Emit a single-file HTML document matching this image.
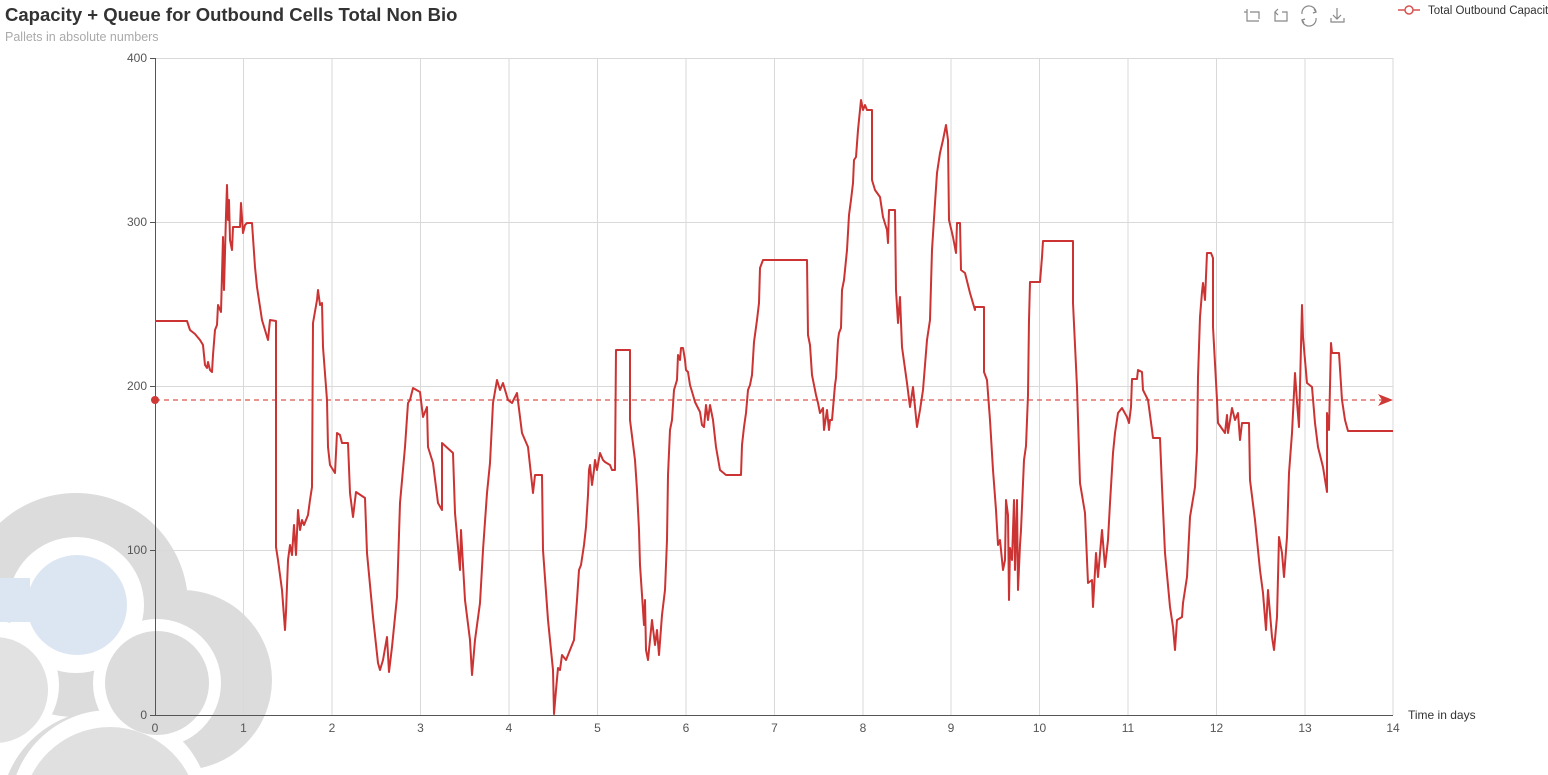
<!DOCTYPE html>
<html><head><meta charset="utf-8"><style>
html,body{margin:0;padding:0;background:#fff;width:1548px;height:775px;overflow:hidden;}
body{position:relative;font-family:"Liberation Sans",sans-serif;}
</style></head><body>
<svg width="1548" height="775" viewBox="0 0 1548 775" xmlns="http://www.w3.org/2000/svg" style="position:absolute;left:0;top:0;display:block">
<defs><clipPath id="c"><rect x="0" y="0" width="1548" height="775"/></clipPath></defs>
<g clip-path="url(#c)">
<circle cx="76" cy="605" r="112" fill="#dcdcdc"/>
<circle cx="182" cy="680" r="90" fill="#dcdcdc"/>
<circle cx="105" cy="815" r="105" fill="#dcdcdc"/>
<circle cx="76" cy="605" r="68" fill="#fff"/>
<circle cx="157" cy="683" r="64" fill="#fff"/>
<circle cx="-5" cy="685" r="64" fill="#fff"/>
<circle cx="110" cy="810" r="100" fill="#fff"/>
<circle cx="110" cy="815" r="88" fill="#e0e0e0"/>
<circle cx="-5" cy="690" r="53" fill="#e2e2e2"/>
<circle cx="157" cy="683" r="52" fill="#dcdcdc"/>
<circle cx="77" cy="605" r="50" fill="#dce6f2"/>
<rect x="0" y="578" width="30" height="44" fill="#dce6f2"/>
</g>
<g stroke="#d9d9d9" stroke-width="1">
<line x1="155" y1="58.5" x2="1393" y2="58.5"/>
<line x1="155" y1="222.5" x2="1393" y2="222.5"/>
<line x1="155" y1="386.5" x2="1393" y2="386.5"/>
<line x1="155" y1="550.5" x2="1393" y2="550.5"/>
<line x1="243.5" y1="58" x2="243.5" y2="715"/>
<line x1="332" y1="58" x2="332" y2="715"/>
<line x1="420.5" y1="58" x2="420.5" y2="715"/>
<line x1="509" y1="58" x2="509" y2="715"/>
<line x1="597.5" y1="58" x2="597.5" y2="715"/>
<line x1="686" y1="58" x2="686" y2="715"/>
<line x1="774.5" y1="58" x2="774.5" y2="715"/>
<line x1="863" y1="58" x2="863" y2="715"/>
<line x1="951" y1="58" x2="951" y2="715"/>
<line x1="1039.5" y1="58" x2="1039.5" y2="715"/>
<line x1="1128" y1="58" x2="1128" y2="715"/>
<line x1="1216.5" y1="58" x2="1216.5" y2="715"/>
<line x1="1305" y1="58" x2="1305" y2="715"/>
<line x1="1393" y1="58" x2="1393" y2="715"/>
</g>
<g stroke="#555" stroke-width="1">
<line x1="155.5" y1="58" x2="155.5" y2="716"/>
<line x1="155" y1="715.5" x2="1393" y2="715.5"/>
<line x1="150" y1="58.5" x2="155" y2="58.5"/>
<line x1="150" y1="222.5" x2="155" y2="222.5"/>
<line x1="150" y1="386.5" x2="155" y2="386.5"/>
<line x1="150" y1="550.5" x2="155" y2="550.5"/>
<line x1="150" y1="715.5" x2="155" y2="715.5"/>
</g>
<g font-size="12" fill="#555" text-anchor="end">
<text x="147" y="62">400</text><text x="147" y="226">300</text><text x="147" y="390">200</text><text x="147" y="554">100</text><text x="147" y="719">0</text>
</g>
<g font-size="12" fill="#555" text-anchor="middle">
<text x="155" y="732">0</text><text x="243.5" y="732">1</text><text x="332" y="732">2</text><text x="420.5" y="732">3</text><text x="509" y="732">4</text><text x="597.5" y="732">5</text><text x="686" y="732">6</text><text x="774.5" y="732">7</text><text x="863" y="732">8</text><text x="951" y="732">9</text><text x="1039.5" y="732">10</text><text x="1128" y="732">11</text><text x="1216.5" y="732">12</text><text x="1305" y="732">13</text><text x="1393" y="732">14</text>
</g>
<text x="1408" y="719" font-size="12" fill="#333">Time in days</text>
<line x1="155" y1="400" x2="1385" y2="400" stroke="#d9534f" stroke-width="1.3" stroke-dasharray="5,4"/>
<circle cx="155" cy="400" r="4" fill="#d03a36"/>
<path d="M1378 394 L1393 400 L1378 406 L1382 400 Z" fill="#d03a36"/>
<polyline fill="none" stroke="#cc3333" stroke-width="2" stroke-linejoin="round" points="
155,321 187,321 190,330 195,334 200,340 203,345 205,365 207,368 208,362 210,370 212,372 213,355 215,330 217,325 218,305 221,312 223,237 224,290 226,215 227,185 228,220 229,200 230,240 232,250 233,227 240,227 241,203 243,233 245,225 247,223 252,223 255,267 257,287 262,320 268,340 270,320 276,321 276,547 278,560 282,590 285,630 286,612 288,560 290,545 292,555 294,525 296,555 298,510 300,530 302,520 304,525 308,515 310,500 312,487 313,323 317,300 318,290 320,305 322,303 323,347 327,400 328,447 330,465 335,473 337,433 340,435 342,443 348,443 350,493 353,517 356,492 365,498 367,553 373,617 378,663 380,670 383,660 387,637 389,672 392,647 397,597 400,503 405,447 408,403 410,400 413,388 420,392 423,417 427,407 428,447 433,463 438,503 442,510 442,443 453,453 455,513 460,570 461,530 465,600 470,640 472,675 475,640 480,603 483,550 487,493 490,463 493,403 497,380 500,390 503,383 508,400 512,403 517,393 522,433 528,447 533,493 535,475 542,475 543,550 548,620 553,670 554,714 556,690 558,668 560,670 562,655 566,660 570,650 574,640 577,600 579,570 581,565 584,545 586,527 588,495 589,470 590,465 592,485 594,470 595,460 597,470 600,453 603,460 605,462 610,465 612,470 615,470 616,350 630,350 630,420 635,460 637,490 639,530 640,565 641,580 643,610 644,625 645,600 646,650 648,660 650,640 652,620 655,645 657,630 659,655 662,615 665,590 667,540 668,475 670,430 672,420 674,390 677,380 678,355 680,360 681,348 683,348 685,360 686,370 688,372 690,385 693,395 695,402 700,412 702,425 704,427 706,405 708,420 710,405 713,420 716,447 720,470 726,475 735,475 741,475 742,445 744,427 746,413 748,390 750,385 752,375 754,342 757,320 759,303 760,268 763,260 780,260 807,260 808,335 810,345 812,375 816,395 818,403 820,413 823,408 824,430 827,410 829,430 830,420 832,420 835,385 836,378 838,340 839,333 841,328 842,290 844,280 847,250 849,215 851,200 853,183 854,160 856,157 858,130 860,110 861,100 863,110 865,105 867,110 872,110 872,180 875,190 880,197 883,217 887,230 888,243 889,210 895,210 896,290 898,323 900,297 902,347 907,383 910,407 913,387 917,427 920,410 923,390 927,340 930,320 932,250 935,203 937,173 940,153 943,140 946,125 948,140 949,220 953,237 956,253 957,223 960,223 961,270 965,273 970,293 975,310 975,307 984,307 984,372 987,380 990,420 993,470 996,510 998,545 1000,540 1003,570 1005,560 1006,500 1008,515 1009,600 1010,548 1012,560 1014,500 1015,570 1017,500 1018,590 1020,545 1021,530 1024,460 1026,446 1028,395 1029,320 1030,282 1040,282 1042,257 1043,241 1073,241 1073,303 1077,387 1080,483 1085,513 1087,560 1088,583 1092,580 1093,607 1096,553 1098,577 1102,530 1105,567 1108,540 1110,503 1113,453 1115,433 1118,413 1122,408 1127,417 1129,423 1131,407 1132,379 1137,379 1138,370 1142,372 1143,390 1148,400 1152,430 1153,438 1160,438 1162,487 1165,553 1170,607 1173,627 1175,650 1177,620 1182,617 1183,603 1187,577 1190,517 1195,487 1197,450 1198,377 1200,317 1202,292 1203,283 1205,300 1207,253 1211,253 1213,258 1213,327 1217,400 1218,423 1225,433 1227,415 1228,433 1232,408 1235,420 1238,413 1240,440 1242,423 1249,423 1250,480 1255,520 1260,570 1263,593 1266,630 1268,590 1272,637 1274,650 1277,617 1279,537 1282,553 1284,577 1287,537 1289,473 1292,433 1295,373 1297,402 1299,427 1302,305 1303,337 1307,383 1312,387 1315,423 1318,447 1323,467 1327,492 1327,413 1329,430 1331,343 1332,353 1339,353 1342,400 1345,420 1348,431 1393,431"/>
<text x="5" y="21" font-size="18.5" font-weight="bold" fill="#333">Capacity + Queue for Outbound Cells Total Non Bio</text>
<text x="5" y="41" font-size="12.5" fill="#aaa">Pallets in absolute numbers</text>
<g fill="none" stroke="#888" stroke-width="1.2">
<path d="M1247 9 V21 H1259 M1250 12 H1259 V19 M1244 12 H1247"/>
<path d="M1275 12 V21 H1287 V12 H1282 M1278 9 L1275 12 L1278 15"/>
<path d="M1316 12 A7 7 0 0 0 1302 14 M1302 20 A7 7 0 0 0 1316 18 M1314 9 L1316 12 L1313 13 M1304 23 L1302 20 L1305 19"/>
<path d="M1337 8 V19 M1333 15 L1337 19 L1341 15 M1331 18 V22 H1344 V18"/>
</g>
<line x1="1398" y1="10" x2="1420" y2="10" stroke="#d9534f" stroke-width="1.5"/>
<circle cx="1409" cy="10" r="4" fill="#fff" stroke="#d9534f" stroke-width="1.5"/>
<text x="1428" y="14" font-size="11.5" fill="#333">Total Outbound Capacity</text>
</svg>
</body></html>
